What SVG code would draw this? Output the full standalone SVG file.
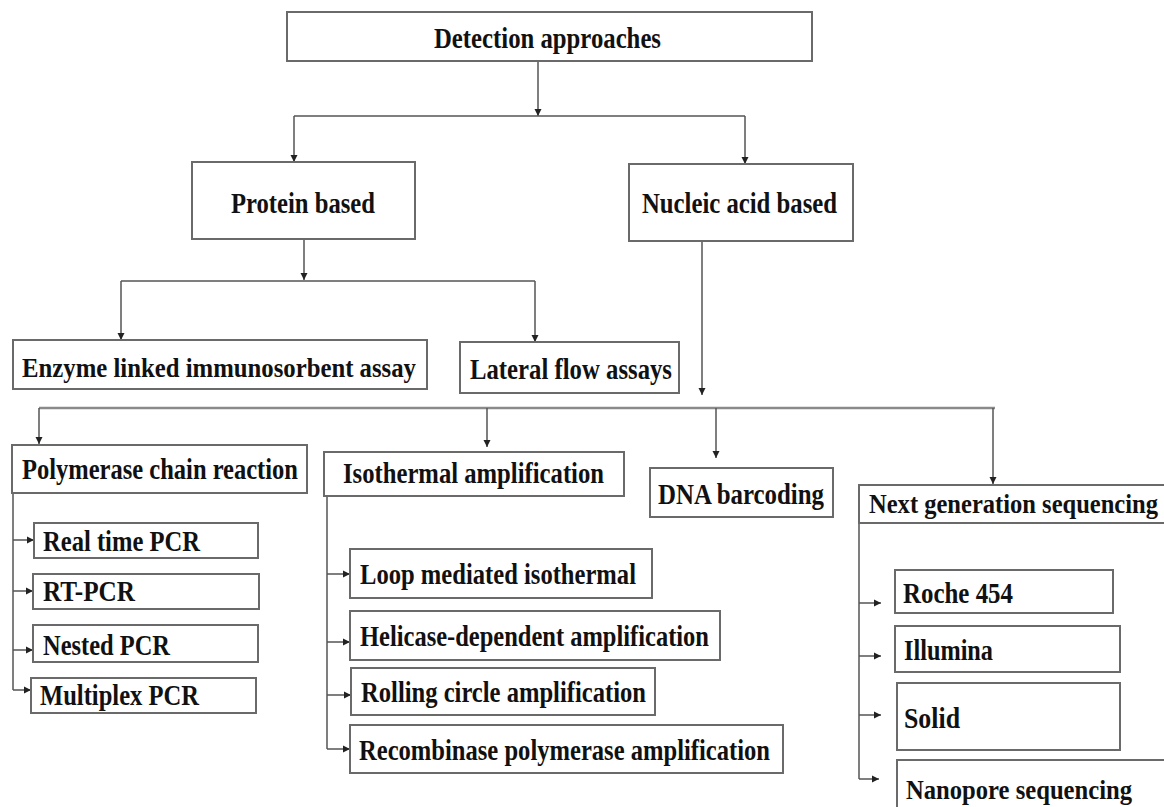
<svg xmlns="http://www.w3.org/2000/svg" width="1164" height="807" viewBox="0 0 1164 807">
<defs>
<marker id="ah" markerUnits="userSpaceOnUse" markerWidth="8" markerHeight="8" refX="7" refY="4" orient="auto">
<path d="M0,0.5 L7,4 L0,7.5 z" fill="#222"/>
</marker>
<style>
.box{fill:#fff;stroke:#6a6a6a;stroke-width:2}
.t{font-family:"Liberation Serif","Times New Roman",serif;font-weight:bold;fill:#111}
.h{font-size:30px}
.m{font-size:29px}
.s{font-size:29px}
.c{fill:none;stroke:#555;stroke-width:1.5}
.a{marker-end:url(#ah)}
</style>
</defs>
<rect width="1164" height="807" fill="#fff"/>
<g id="connectors">
<path class="c a" d="M538,61 V116"/>
<path class="c" d="M294,116 H745"/>
<path class="c a" d="M294,116 V162"/>
<path class="c a" d="M745,116 V164"/>
<path class="c a" d="M304,239 V280"/>
<path class="c" d="M121,281 H535"/>
<path class="c a" d="M121,281 V340"/>
<path class="c a" d="M535,281 V342"/>
<path class="c a" d="M702,241 V395"/>
<path d="M39,408 H995" fill="none" stroke="#8a8a8a" stroke-width="2.5"/>
<path class="c a" d="M39,408 V444"/>
<path class="c a" d="M487,408 V447"/>
<path class="c a" d="M716,408 V458"/>
<path class="c a" d="M993,408 V484"/>
<path class="c" d="M13,493 V690"/>
<path class="c a" d="M13,540 H34"/>
<path class="c a" d="M13,591 H33"/>
<path class="c a" d="M13,650 H33"/>
<path class="c a" d="M13,690 H31"/>
<path class="c" d="M327,496 V749"/>
<path class="c a" d="M327,574 H350"/>
<path class="c a" d="M327,642 H350"/>
<path class="c a" d="M327,695 H351"/>
<path class="c a" d="M327,749 H350"/>
<path class="c" d="M859,523 V779"/>
<path class="c a" d="M859,603 H881"/>
<path class="c a" d="M859,656 H881"/>
<path class="c a" d="M859,715 H881"/>
<path class="c a" d="M859,779 H879"/>
</g>
<g id="detection"><rect class="box" x="287" y="12" width="525" height="49"/><text class="t m" x="434" y="48" textLength="227" lengthAdjust="spacingAndGlyphs">Detection approaches</text></g>
<g id="protein"><rect class="box" x="192" y="162" width="223" height="77"/><text class="t h" x="231" y="213" textLength="144" lengthAdjust="spacingAndGlyphs">Protein based</text></g>
<g id="nucleic"><rect class="box" x="629" y="164" width="224" height="77"/><text class="t h" x="642" y="213" textLength="195" lengthAdjust="spacingAndGlyphs">Nucleic acid based</text></g>
<g id="elisa"><rect class="box" x="13" y="340" width="414" height="49"/><text class="t" style="font-size:28px" x="22" y="377" textLength="394" lengthAdjust="spacingAndGlyphs">Enzyme linked immunosorbent assay</text></g>
<g id="lateral"><rect class="box" x="460" y="342" width="219" height="51"/><text class="t h" x="470" y="379" textLength="202" lengthAdjust="spacingAndGlyphs">Lateral flow assays</text></g>
<g id="pcr"><rect class="box" x="12" y="445" width="295" height="48"/><text class="t m" x="22" y="479" textLength="276" lengthAdjust="spacingAndGlyphs">Polymerase chain reaction</text></g>
<g id="isothermal"><rect class="box" x="324" y="452" width="300" height="44"/><text class="t m" x="343" y="483" textLength="261" lengthAdjust="spacingAndGlyphs">Isothermal amplification</text></g>
<g id="dna"><rect class="box" x="650" y="468" width="183" height="49"/><text class="t m" x="658" y="504" textLength="166" lengthAdjust="spacingAndGlyphs">DNA barcoding</text></g>
<g id="ngs"><rect class="box" x="859" y="485" width="320" height="38"/><text class="t" style="font-size:27px" x="869" y="513" textLength="289" lengthAdjust="spacingAndGlyphs">Next generation sequencing</text></g>
<g id="realtime"><rect class="box" x="34" y="523" width="224" height="35"/><text class="t s" x="43" y="551" textLength="157" lengthAdjust="spacingAndGlyphs">Real time PCR</text></g>
<g id="rtpcr"><rect class="box" x="33" y="574" width="226" height="35"/><text class="t s" x="43" y="601" textLength="92" lengthAdjust="spacingAndGlyphs">RT-PCR</text></g>
<g id="nested"><rect class="box" x="33" y="625" width="225" height="37"/><text class="t s" x="43" y="655" textLength="127" lengthAdjust="spacingAndGlyphs">Nested PCR</text></g>
<g id="multiplex"><rect class="box" x="31" y="678" width="225" height="35"/><text class="t s" x="40" y="705" textLength="159" lengthAdjust="spacingAndGlyphs">Multiplex PCR</text></g>
<g id="lamp"><rect class="box" x="350" y="549" width="302" height="49"/><text class="t s" x="360" y="584" textLength="276" lengthAdjust="spacingAndGlyphs">Loop mediated isothermal</text></g>
<g id="hda"><rect class="box" x="350" y="611" width="370" height="49"/><text class="t s" x="360" y="646" textLength="349" lengthAdjust="spacingAndGlyphs">Helicase-dependent amplification</text></g>
<g id="rca"><rect class="box" x="351" y="668" width="304" height="47"/><text class="t s" x="361" y="702" textLength="285" lengthAdjust="spacingAndGlyphs">Rolling circle amplification</text></g>
<g id="rpa"><rect class="box" x="350" y="725" width="433" height="48"/><text class="t s" x="359" y="760" textLength="411" lengthAdjust="spacingAndGlyphs">Recombinase polymerase amplification</text></g>
<g id="roche"><rect class="box" x="895" y="570" width="218" height="43"/><text class="t s" x="903" y="603" textLength="110" lengthAdjust="spacingAndGlyphs">Roche 454</text></g>
<g id="illumina"><rect class="box" x="895" y="626" width="225" height="46"/><text class="t s" x="904" y="660" textLength="89" lengthAdjust="spacingAndGlyphs">Illumina</text></g>
<g id="solid"><rect class="box" x="897" y="683" width="223" height="67"/><text class="t s" x="904" y="728" textLength="56" lengthAdjust="spacingAndGlyphs">Solid</text></g>
<g id="nanopore"><rect class="box" x="897" y="760" width="290" height="70"/><text class="t" style="font-size:27px" x="906" y="799" textLength="226" lengthAdjust="spacingAndGlyphs">Nanopore sequencing</text></g>
</svg>
